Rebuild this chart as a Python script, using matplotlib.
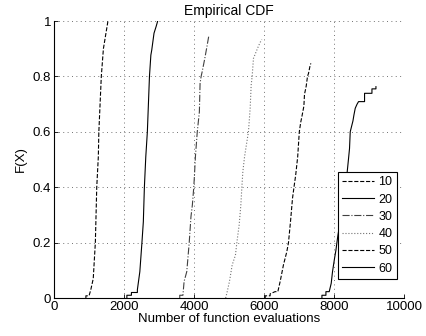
import matplotlib
matplotlib.use('Agg')
import matplotlib.pyplot as plt

# Number of function evaluations vs empirical F(X)
c10_x = [910, 910, 1000, 1050, 1120, 1180, 1220, 1265, 1280, 1350, 1410, 1540]
c10_F = [0, 0.008, 0.008, 0.03, 0.07, 0.2, 0.4, 0.51, 0.6, 0.8, 0.9, 1.0]

c20_x = [2080, 2080, 2210, 2210, 2380, 2380, 2450, 2510, 2550, 2580, 2620,
         2665, 2725, 2765, 2790, 2855, 2915, 2960]
c20_F = [0, 0.01, 0.01, 0.02, 0.02, 0.03, 0.095, 0.2, 0.275, 0.4, 0.51,
         0.6, 0.8, 0.877, 0.895, 0.956, 0.98, 1.0]

c30_x = [3590, 3590, 3680, 3714, 3790, 3860, 3910, 3950, 3990, 4010, 4040,
         4090, 4150, 4170, 4200, 4230, 4305, 4365, 4420]
c30_F = [0, 0.01, 0.01, 0.06, 0.095, 0.2, 0.294, 0.336, 0.4, 0.444, 0.516,
         0.6, 0.672, 0.775, 0.8, 0.817, 0.865, 0.907, 0.947]

c40_x = [4900, 4934, 5009, 5086, 5180, 5220, 5286, 5334, 5363, 5391, 5440,
         5506, 5551, 5600, 5629, 5657, 5694, 5771, 5829, 5886, 5934]
c40_F = [0, 0.017, 0.06, 0.119, 0.155, 0.2, 0.264, 0.336, 0.4, 0.456, 0.51,
         0.564, 0.6, 0.685, 0.769, 0.8, 0.865, 0.889, 0.907, 0.923, 0.933]

c50_x = [6029, 6029, 6170, 6170, 6310, 6390, 6457, 6551, 6646, 6694, 6751,
         6809, 6851, 6900, 6957, 7003, 7043, 7080, 7134, 7151, 7200, 7237,
         7266, 7314, 7334]
c50_F = [0, 0.008, 0.008, 0.015, 0.023, 0.023, 0.06, 0.12, 0.167, 0.2, 0.275,
         0.36, 0.4, 0.444, 0.51, 0.6, 0.634, 0.657, 0.693, 0.735, 0.765, 0.8,
         0.811, 0.841, 0.847]

c60_x = [7649, 7649, 7763, 7763, 7857, 7914, 7951, 8009, 8049, 8077, 8106,
         8200, 8290, 8371, 8409, 8437, 8457, 8506, 8534, 8563, 8600, 8649,
         8694, 8866, 8866, 9077, 9077, 9191, 9191]
c60_F = [0, 0.01, 0.01, 0.023, 0.023, 0.053, 0.095, 0.143, 0.173, 0.2, 0.227,
         0.3, 0.38, 0.456, 0.504, 0.54, 0.6, 0.625, 0.639, 0.661, 0.685, 0.699,
         0.709, 0.709, 0.739, 0.739, 0.755, 0.755, 0.763]

labels = ['10', '20', '30', '40', '50', '60']
xticks = [0, 2000, 4000, 6000, 8000, 10000]
yticks = [0, 0.2, 0.4, 0.6, 0.8, 1]
ytick_labels = ['0', '0.2', '0.4', '0.6', '0.8', '1']

plt.rcParams['font.family'] = ['Liberation Sans', 'DejaVu Sans']
plt.rcParams['font.size'] = 9.5

fig = plt.figure(figsize=(4.26, 3.36), dpi=100)
ax = fig.add_axes([0.1268, 0.113, 0.8222, 0.8245])

curves = [(c10_x, c10_F), (c20_x, c20_F), (c30_x, c30_F),
          (c40_x, c40_F), (c50_x, c50_F), (c60_x, c60_F)]
styles = [('--', 'black'), ('-', 'black'), ('-.', '0.25'),
          (':', '0.45'), ('--', 'black'), ('-', 'black')]

for (x, F), (ls, col), lab in zip(curves, styles, labels):
    ax.plot(x, F, linestyle=ls, color=col, linewidth=0.8, label=lab)

ax.set_xlim(0, 10000)
ax.set_ylim(0, 1)
ax.set_xticks(xticks)
ax.set_yticks(yticks)
ax.set_yticklabels(ytick_labels)
ax.tick_params(direction='in', length=3, width=0.6, pad=2)
ax.spines['top'].set_visible(False)
ax.spines['right'].set_visible(False)
ax.spines['left'].set_linewidth(0.8)
ax.spines['bottom'].set_linewidth(0.8)
ax.grid(True, linestyle=(0, (1, 3.5)), color='0.45', linewidth=0.7)
ax.set_axisbelow(True)

ax.set_title('Empirical CDF', fontsize=10, pad=4)
ax.set_xlabel('Number of function evaluations', labelpad=0)
ax.set_ylabel('F(X)', labelpad=4)

leg = ax.legend(loc='lower right', bbox_to_anchor=(0.978, 0.069),
                fancybox=False, framealpha=1, edgecolor='black',
                fontsize=9, handlelength=2.6, handletextpad=0.3,
                labelspacing=0.42, borderpad=0.35, borderaxespad=0)
leg.get_frame().set_linewidth(0.8)

fig.savefig('out.png', dpi=100)
